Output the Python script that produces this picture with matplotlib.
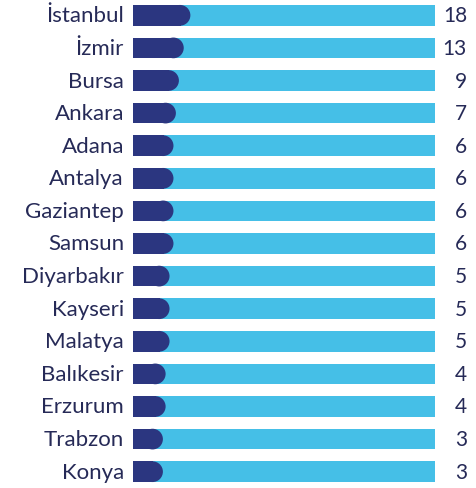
import matplotlib
matplotlib.use('Agg')
import matplotlib.pyplot as plt
from matplotlib.patches import Ellipse

plt.rcParams['font.family'] = ['Lato', 'DejaVu Sans']

cities = ['İstanbul', 'İzmir', 'Bursa', 'Ankara', 'Adana', 'Antalya', 'Gaziantep',
          'Samsun', 'Diyarbakır', 'Kayseri', 'Malatya', 'Balıkesir', 'Erzurum',
          'Trabzon', 'Konya']
counts = [18, 13, 9, 7, 6, 6, 6, 6, 5, 5, 5, 4, 4, 3, 3]
# dolu kısım, izin yüzdesi olarak
fill = [19.0, 16.8, 15.2, 14.2, 13.4, 13.4, 13.4, 13.4, 12.1, 12.1, 12.1, 10.8, 10.8, 9.9, 9.9]

NAVY = '#2b3680'
LIGHT = '#45bfe7'
TXT = '#262a57'

W, H = 476, 489
fig = plt.figure(figsize=(W / 100, H / 100), dpi=100)
ax = fig.add_axes([133 / W, 0, 302 / W, 1])
ax.set_xlim(0, 100)
ax.set_ylim(len(cities) - 0.5, -0.5)
ax.axis('off')

bh = 0.635
rx = 10.35 / 302 * 100  # yuvarlak ucun yarıçapı (veri biriminde)
for i, (c, n, f) in enumerate(zip(cities, counts, fill)):
    ax.barh(i, 100, height=bh, color=LIGHT, lw=0)
    ax.barh(i, f - rx + 0.2, height=bh, color=NAVY, lw=0)
    ax.add_patch(Ellipse((f - rx, i), 2 * rx, bh, color=NAVY, lw=0))
    ax.text(-3.0, i, c, ha='right', va='center', fontsize=16, color=TXT, clip_on=False)
    ax.text(110.6, i, str(n), ha='right', va='center', fontsize=15, color=TXT, clip_on=False)

fig.savefig('out.png', dpi=100)
